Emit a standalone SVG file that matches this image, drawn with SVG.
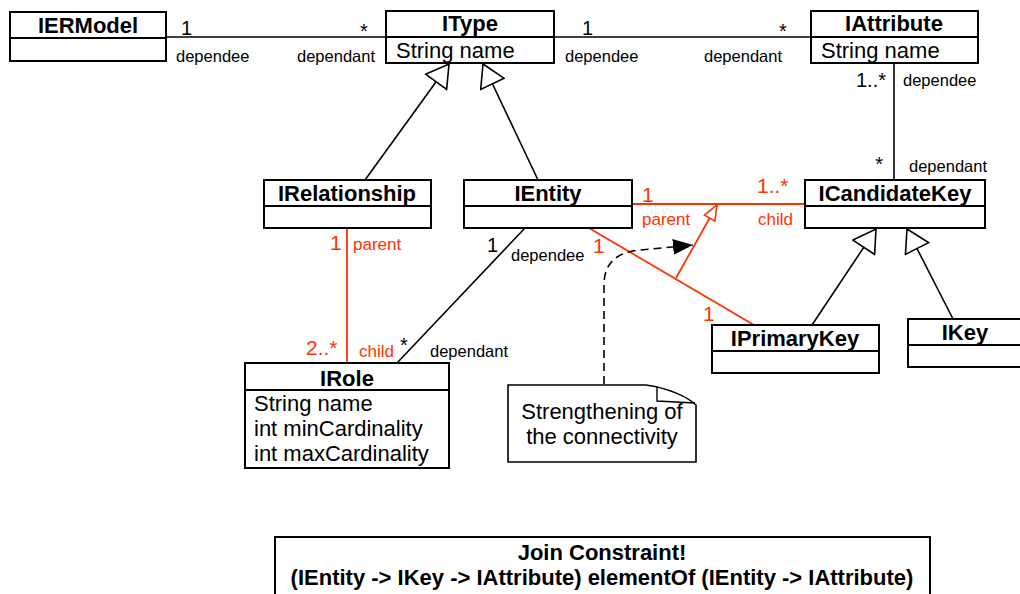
<svg xmlns="http://www.w3.org/2000/svg" width="1020" height="594" viewBox="0 0 1020 594">
  <style>
    .box { fill: #ffffff; stroke: #000000; stroke-width: 2; }
    .div { stroke: #000000; stroke-width: 2; }
    .title { font-family: "Liberation Sans", Arial, sans-serif; font-weight: bold; font-size: 22px; fill: #000000; text-anchor: middle; }
    .attr { font-family: "Liberation Sans", Arial, sans-serif; font-size: 22px; fill: #000000; }
    .role { font-family: "Liberation Sans", Arial, sans-serif; font-size: 16.5px; fill: #000000; }
    .mult { font-family: "Liberation Sans", Arial, sans-serif; font-size: 20px; fill: #000000; }
    .rrole { font-family: "Liberation Sans", Arial, sans-serif; font-size: 17px; fill: #ff3300; }
    .rmult { font-family: "Liberation Sans", Arial, sans-serif; font-size: 21px; fill: #ff3300; }
    .line { fill: none; stroke: #000000; stroke-width: 1.6; }
    .rline { fill: none; stroke: #ff3300; stroke-width: 1.8; }
    .dash { fill: none; stroke: #000000; stroke-width: 1.6; stroke-dasharray: 8 5; }
    .note { font-family: "Liberation Sans", Arial, sans-serif; font-size: 22px; fill: #000000; text-anchor: middle; }
  </style>
  <defs>
    <!-- hollow triangle for generalization -->
    <marker id="gen" markerUnits="userSpaceOnUse" viewBox="0 0 24 28" markerWidth="24" markerHeight="28" refX="23" refY="14" orient="auto">
      <path d="M1,1 L23,14 L1,27 Z" fill="#ffffff" stroke="#000000" stroke-width="1.6"/>
    </marker>
    <!-- small hollow red triangle -->
    <marker id="redOpen" markerUnits="userSpaceOnUse" viewBox="0 0 17 14" markerWidth="17" markerHeight="14" refX="16" refY="7" orient="auto">
      <path d="M1,1 L16,7 L1,13 Z" fill="#ffffff" stroke="#ff3300" stroke-width="1.6"/>
    </marker>
    <!-- filled arrowhead for the note link -->
    <marker id="filled" markerUnits="userSpaceOnUse" viewBox="0 0 20 16" markerWidth="20" markerHeight="16" refX="20" refY="8" orient="auto">
      <path d="M0,0 L20,8 L0,16 Z" fill="#000000"/>
    </marker>
  </defs>

  <rect x="0" y="0" width="1020" height="594" fill="#ffffff"/>

  <!-- connectors -->
  <g id="connectors">
    <path class="line" d="M166,37 L386,37"/>
    <path class="line" d="M554,37 L811,37"/>
    <path class="line" d="M894,63 L894,180"/>
    <path class="line" d="M365,180 L449,64" marker-end="url(#gen)"/>
    <path class="line" d="M538,180 L483,64" marker-end="url(#gen)"/>
    <path class="line" d="M812,325 L876,229" marker-end="url(#gen)"/>
    <path class="line" d="M953,319 L907,229" marker-end="url(#gen)"/>
    <path class="line" d="M525,228 L397,363"/>
    <path class="rline" d="M632,204 L805,204"/>
    <path class="rline" d="M347,228 L347,363"/>
    <path class="rline" d="M589,228 L754,325"/>
    <path class="rline" d="M676,278 L717,205" marker-end="url(#redOpen)"/>
    <path class="dash" d="M604,384 L604,285 C604,262 618,252 640,250 L693,245" marker-end="url(#filled)"/>

    <!-- IERModel - IType -->
    <text class="mult" x="181" y="35">1</text>
    <text class="mult" x="360" y="38">*</text>
    <text class="role" x="176" y="62">dependee</text>
    <text class="role" x="297" y="62">dependant</text>
    <!-- IType - IAttribute -->
    <text class="mult" x="582" y="35">1</text>
    <text class="mult" x="779" y="38">*</text>
    <text class="role" x="565" y="62">dependee</text>
    <text class="role" x="704" y="62">dependant</text>
    <!-- IAttribute - ICandidateKey -->
    <text class="mult" x="886" y="87" text-anchor="end">1..*</text>
    <text class="role" x="903" y="86">dependee</text>
    <text class="mult" x="883" y="171" text-anchor="end">*</text>
    <text class="role" x="909" y="172">dependant</text>
    <!-- IEntity - ICandidateKey -->
    <text class="rmult" x="642" y="202">1</text>
    <text class="rmult" x="757" y="193">1..*</text>
    <text class="rrole" x="642" y="225">parent</text>
    <text class="rrole" x="758" y="225">child</text>
    <!-- IRelationship - IRole -->
    <text class="rmult" x="330" y="250">1</text>
    <text class="rrole" x="353" y="250">parent</text>
    <text class="rmult" x="306" y="355">2..*</text>
    <text class="rrole" x="359" y="357">child</text>
    <!-- IEntity - IRole -->
    <text class="mult" x="487" y="252">1</text>
    <text class="role" x="511" y="261">dependee</text>
    <text class="mult" x="400" y="352">*</text>
    <text class="role" x="430" y="357">dependant</text>
    <!-- IEntity - IPrimaryKey -->
    <text class="rmult" x="593" y="253">1</text>
    <text class="rmult" x="703" y="321">1</text>
  </g>

  <!-- classes -->
  <g id="IERModel">
    <rect class="box" x="10" y="12" width="156" height="49"/>
    <line class="div" x1="10" y1="38" x2="166" y2="38"/>
    <text class="title" x="88" y="33">IERModel</text>
  </g>
  <g id="IType">
    <rect class="box" x="386" y="11" width="168" height="52"/>
    <line class="div" x1="386" y1="37" x2="554" y2="37"/>
    <text class="title" x="470" y="31">IType</text>
    <text class="attr" x="396" y="58">String name</text>
  </g>
  <g id="IAttribute">
    <rect class="box" x="811" y="11" width="167" height="52"/>
    <line class="div" x1="811" y1="37" x2="978" y2="37"/>
    <text class="title" x="894" y="31">IAttribute</text>
    <text class="attr" x="821" y="58">String name</text>
  </g>
  <g id="IRelationship">
    <rect class="box" x="264" y="180" width="167" height="48"/>
    <line class="div" x1="264" y1="206" x2="431" y2="206"/>
    <text class="title" x="347" y="201">IRelationship</text>
  </g>
  <g id="IEntity">
    <rect class="box" x="464" y="180" width="168" height="48"/>
    <line class="div" x1="464" y1="206" x2="632" y2="206"/>
    <text class="title" x="548" y="201">IEntity</text>
  </g>
  <g id="ICandidateKey">
    <rect class="box" x="805" y="180" width="180" height="48"/>
    <line class="div" x1="805" y1="206" x2="985" y2="206"/>
    <text class="title" x="895" y="201">ICandidateKey</text>
  </g>
  <g id="IPrimaryKey">
    <rect class="box" x="712" y="325" width="167" height="48"/>
    <line class="div" x1="712" y1="351" x2="879" y2="351"/>
    <text class="title" x="795" y="346">IPrimaryKey</text>
  </g>
  <g id="IKey">
    <rect class="box" x="908" y="319" width="114" height="48"/>
    <line class="div" x1="908" y1="345" x2="1022" y2="345"/>
    <text class="title" x="965" y="340">IKey</text>
  </g>
  <g id="IRole">
    <rect class="box" x="245" y="363" width="204" height="105"/>
    <line class="div" x1="245" y1="390" x2="449" y2="390"/>
    <text class="title" x="347" y="386">IRole</text>
    <text class="attr" x="254" y="411">String name</text>
    <text class="attr" x="254" y="436">int minCardinality</text>
    <text class="attr" x="254" y="461">int maxCardinality</text>
  </g>

  <!-- note with folded corner -->
  <g id="note">
    <path d="M508,385 L646,385 C668,388 688,397 696,405 L696,462 L508,462 Z" fill="#ffffff" stroke="#000000" stroke-width="1.6"/>
    <path d="M657,386 L657,401 L695,403" fill="none" stroke="#000000" stroke-width="1.4"/>
    <text class="note" x="602" y="419">Strengthening of</text>
    <text class="note" x="602" y="444">the connectivity</text>
  </g>

  <!-- constraint -->
  <g id="constraint">
    <rect class="box" x="275" y="537" width="655" height="70"/>
    <text class="title" x="602" y="560">Join Constraint!</text>
    <text class="title" x="602" y="585">(IEntity -&gt; IKey -&gt; IAttribute) elementOf (IEntity -&gt; IAttribute)</text>
  </g>
</svg>
